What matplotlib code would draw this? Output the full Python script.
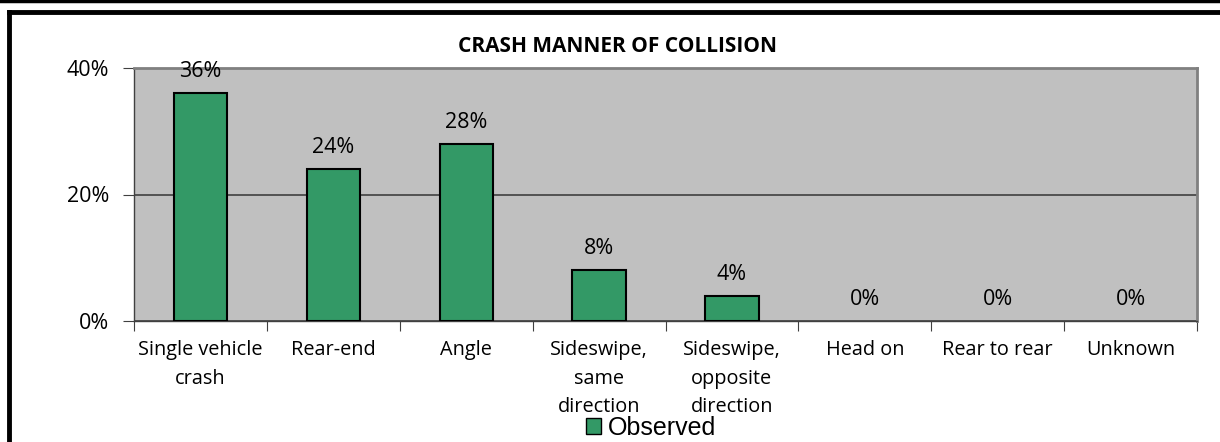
import matplotlib.pyplot as plt
from matplotlib.lines import Line2D
from matplotlib.patches import Patch
from matplotlib.ticker import FuncFormatter

categories = ['Single vehicle\ncrash', 'Rear-end', 'Angle', 'Sideswipe,\nsame\ndirection',
              'Sideswipe,\nopposite\ndirection', 'Head on', 'Rear to rear', 'Unknown']
observed = [36, 24, 28, 8, 4, 0, 0, 0]
yticks = [0, 20, 40]

W, H = 1220, 442
fig = plt.figure(figsize=(W / 100, H / 100), dpi=100)
ax = fig.add_axes([134 / W, 1 - 321 / H, (1197 - 134) / W, (321 - 68) / H])

font = 'Open Sans'
x = range(len(categories))
bars = ax.bar(x, observed, width=0.4, color='#339966', edgecolor='black', linewidth=1.5, zorder=3)
for b, v in zip(bars, observed):
    if v == 0:
        b.set_linewidth(0)
ax.bar_label(bars, labels=[f"{v}%" for v in observed], padding=8, fontsize=15.5, family=font)

ax.set_facecolor('#C0C0C0')
ax.set_xlim(-0.5, len(categories) - 0.5)
ax.set_ylim(0, 40)
ax.set_yticks(yticks)
ax.yaxis.set_major_formatter(FuncFormatter(lambda v, p: f"{v:.0f}%"))
ax.yaxis.grid(True, color='#404040', linewidth=1.2, zorder=1)
ax.set_axisbelow(True)

ax.set_xticks([i - 0.5 for i in range(len(categories) + 1)], minor=False)
ax.set_xticklabels([])
ax.set_xticks(list(x), minor=True)
ax.set_xticklabels(categories, minor=True, fontsize=14.3, family=font, linespacing=1.55, va='top')
ax.tick_params(axis='x', which='minor', length=0, pad=14)
ax.tick_params(axis='x', which='major', length=7, direction='out', color='#404040')
ax.tick_params(axis='y', length=8, direction='out', color='#404040', labelsize=15.5, pad=10)
for lab in ax.get_yticklabels():
    lab.set_family(font)

for s in ['top', 'right']:
    ax.spines[s].set_color('#808080')
    ax.spines[s].set_linewidth(2)
ax.spines['left'].set_color('#404040')
ax.spines['bottom'].set_color('#404040')
ax.spines['left'].set_linewidth(1)
ax.spines['bottom'].set_linewidth(1)

fig.text(617 / W, 1 - 46 / H, 'CRASH MANNER OF COLLISION', ha='center', va='center',
         fontsize=15, fontweight='bold', family=font)

handle = Patch(facecolor='#339966', edgecolor='black', linewidth=1)
fig.legend([handle], ['Observed'], loc='center', bbox_to_anchor=(651 / W, 1 - 428 / H),
           frameon=False, prop={'family': 'Liberation Sans', 'size': 18},
           handlelength=0.6, handleheight=0.6, handletextpad=0.25, borderaxespad=0)

# outer frame
fig.add_artist(Line2D([0, 1], [1 - 1 / H, 1 - 1 / H], color='black', linewidth=2.5, transform=fig.transFigure))
fig.add_artist(Line2D([8.5 / W, 1], [1 - 11.5 / H, 1 - 11.5 / H], color='black', linewidth=3.5, transform=fig.transFigure))
fig.add_artist(Line2D([8.5 / W, 8.5 / W], [0, 1 - 11.5 / H], color='black', linewidth=3.5, transform=fig.transFigure))

fig.savefig('out.png', dpi=100)
